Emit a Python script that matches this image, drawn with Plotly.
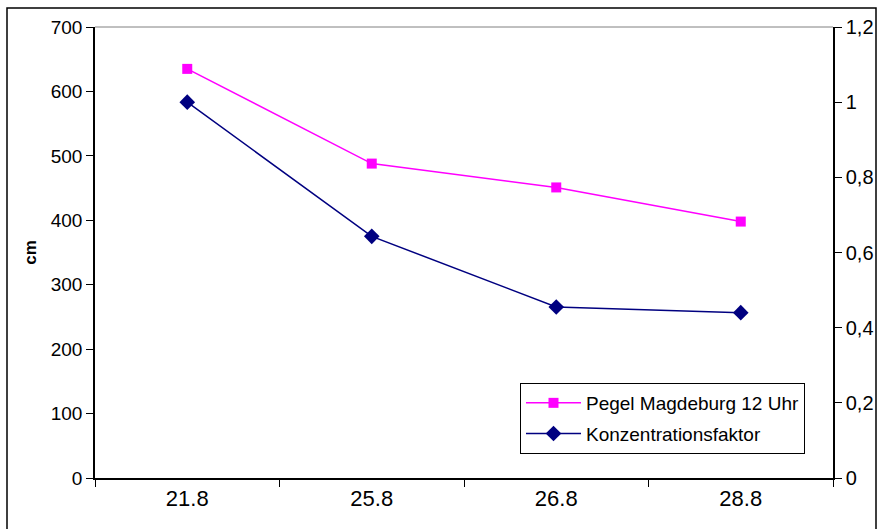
import plotly.graph_objects as go

categories = ["21.8", "25.8", "26.8", "28.8"]
pegel_cm = [635, 488, 451, 398]
konz_faktor = [1.0, 0.643, 0.455, 0.44]

fig = go.Figure()
fig.add_trace(go.Scatter(
    x=categories, y=pegel_cm, name="Pegel Magdeburg 12 Uhr",
    mode="lines+markers", legendgroup="a",
    line=dict(color="#FF00FF", width=1.5),
    marker=dict(symbol="square", size=10, color="#FF00FF"),
))
fig.add_trace(go.Scatter(
    x=categories, y=konz_faktor, name="Konzentrationsfaktor",
    mode="lines+markers", yaxis="y2", legendgroup="b",
    line=dict(color="#000080", width=1.5),
    marker=dict(symbol="diamond", size=12, color="#000080"),
))

fig.update_layout(
    width=879, height=529,
    margin=dict(l=95, r=46, t=27, b=51, autoexpand=False),
    paper_bgcolor="white", plot_bgcolor="white",
    font=dict(family="Liberation Sans, Arial, sans-serif", size=19, color="black"),
    separators=",.",
    showlegend=True,
    legend=dict(
        x=(520 - 95) / 738, y=(478 - 383) / 451, xanchor="left", yanchor="top",
        bordercolor="black", borderwidth=1, bgcolor="white",
        font=dict(size=19), traceorder="grouped", tracegroupgap=3,
        itemwidth=55,
    ),
    xaxis=dict(
        type="category", range=[-0.5, 3.5], automargin=False,
        showline=True, linecolor="black", linewidth=1.5,
        ticks="outside", tickson="boundaries", ticklen=7, tickcolor="black",
        showgrid=False, zeroline=False, tickfont=dict(size=22),
    ),
    yaxis=dict(
        range=[0, 700], dtick=100, automargin=False,
        showline=True, linecolor="black", linewidth=1.5,
        ticks="outside", ticklen=7, tickcolor="black", showgrid=False, zeroline=False,
        tickfont=dict(size=19),
        title=dict(text="<b>cm</b>", font=dict(size=17), standoff=10),
    ),
    yaxis2=dict(
        range=[0, 1.2], dtick=0.2, overlaying="y", side="right", automargin=False,
        showline=True, linecolor="black", linewidth=1.5,
        ticks="outside", ticklen=7, tickcolor="black", showgrid=False, zeroline=False,
        tickfont=dict(size=20),
    ),
    shapes=[
        dict(type="line", xref="paper", yref="paper", x0=0, x1=1, y0=1, y1=1,
             line=dict(color="#808080", width=1)),
        dict(type="rect", xref="paper", yref="paper",
             x0=-88/738, x1=(876-95)/738, y0=(478-535)/451, y1=(478-8)/451,
             line=dict(color="black", width=1.5), layer="below"),
    ],
)

fig.write_html("out.html", config={"displayModeBar": False},
               post_script="document.body.style.margin='0px';")
